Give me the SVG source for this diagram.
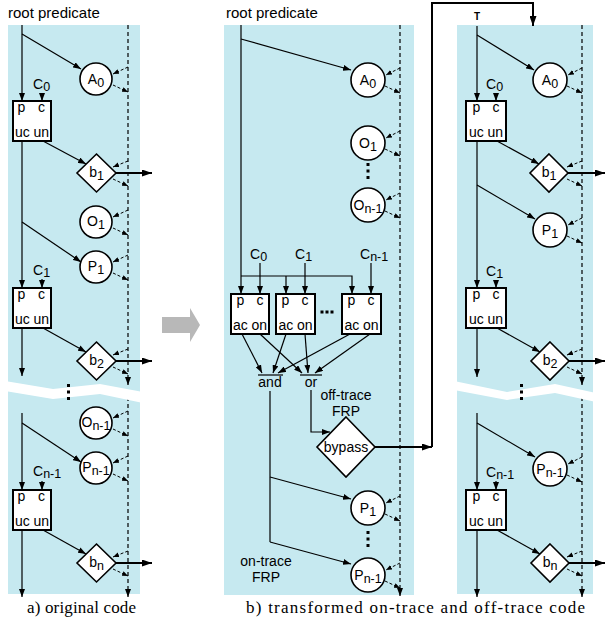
<svg xmlns="http://www.w3.org/2000/svg" width="605" height="623" viewBox="0 0 605 623">
<defs>
<style>
.panel{fill:#c6e9f0;stroke:none}
.t{font-family:"Liberation Sans",Arial,sans-serif;font-size:14px;fill:#000}
.tm{font-family:"Liberation Sans",Arial,sans-serif;font-size:14px;fill:#000;text-anchor:middle}
.cap{font-family:"Liberation Serif","Times New Roman",serif;font-size:17px;fill:#000}
.box{fill:#fff;stroke:#000;stroke-width:2}
.nd{fill:#fff;stroke:#000;stroke-width:1.6}
.ln{fill:none;stroke:#000;stroke-width:1.2}
.lnh{fill:none;stroke:#000;stroke-width:2}
.ds{fill:none;stroke:#000;stroke-width:1.2;stroke-dasharray:4 3}
.dss{fill:none;stroke:#000;stroke-width:1;stroke-dasharray:3 2}
.band{fill:#fff;stroke:none}
.dot{fill:#000}
</style>
<marker id="ah" viewBox="0 0 8 6" refX="8" refY="3" markerWidth="8" markerHeight="6" markerUnits="userSpaceOnUse" orient="auto"><path d="M0,0 L8,3 L0,6 z"/></marker>
<marker id="as" viewBox="0 0 6 5" refX="6" refY="2.5" markerWidth="6" markerHeight="5" markerUnits="userSpaceOnUse" orient="auto"><path d="M0,0 L6,2.5 L0,5 z"/></marker>
<marker id="ab" viewBox="0 0 10 7" refX="10" refY="3.5" markerWidth="10" markerHeight="7" markerUnits="userSpaceOnUse" orient="auto"><path d="M0,0 L10,3.5 L0,7 z"/></marker>
</defs>

<!-- panels -->
<rect class="panel" x="8" y="25" width="132" height="569"/>
<rect class="panel" x="224" y="25" width="190" height="570"/>
<rect class="panel" x="457" y="25" width="136" height="569"/>

<!-- transform arrow -->
<polygon points="162,317 190,317 190,308 200,325 190,342 190,333 162,333" fill="#b8b8b8"/>

<!-- connectors -->
<g id="connectors">
 <!-- panel a -->
 <path class="ln" marker-end="url(#ah)" d="M22,25 V101"/>
 <path class="ln" marker-end="url(#ah)" d="M22,34 L81,69"/>
 <path class="ln" marker-end="url(#ah)" d="M42,93 V101"/>
 <path class="ln" marker-end="url(#ah)" d="M22,141 V288"/>
 <path class="ln" marker-end="url(#ah)" d="M22,222 L81,262"/>
 <path class="ln" marker-end="url(#ah)" d="M43,141 L86,164"/>
 <path class="lnh" marker-end="url(#ab)" d="M116,173 H152"/>
 <path class="ln" marker-end="url(#ah)" d="M42,279 V288"/>
 <path class="ln" marker-end="url(#ah)" d="M22,328 V376"/>
 <path class="ln" marker-end="url(#ah)" d="M43,328 L86,352"/>
 <path class="lnh" marker-end="url(#ab)" d="M116,361 H152"/>
 <path class="ln" marker-end="url(#ah)" d="M22,413 V490"/>
 <path class="ln" marker-end="url(#ah)" d="M22,423 L81,462"/>
 <path class="ln" marker-end="url(#ah)" d="M42,481 V490"/>
 <path class="ln" marker-end="url(#ah)" d="M22,530 V597"/>
 <path class="ln" marker-end="url(#ah)" d="M43,530 L86,554"/>
 <path class="lnh" marker-end="url(#ab)" d="M116,563 H152"/>
 <path class="ds" marker-end="url(#ah)" d="M128,25 V385"/>
 <path class="ds" marker-end="url(#ah)" d="M128,397 V597"/>
 <g class="dss">
  <path marker-end="url(#as)" d="M128,67 L113,74"/><path marker-end="url(#as)" d="M113,85 L128,92"/>
  <path marker-end="url(#as)" d="M128,161 L113,167"/><path marker-end="url(#as)" d="M113,179 L128,186"/>
  <path marker-end="url(#as)" d="M128,210 L113,217"/><path marker-end="url(#as)" d="M113,228 L128,235"/>
  <path marker-end="url(#as)" d="M128,255 L113,262"/><path marker-end="url(#as)" d="M113,273 L128,280"/>
  <path marker-end="url(#as)" d="M128,349 L113,355"/><path marker-end="url(#as)" d="M113,367 L128,374"/>
  <path marker-end="url(#as)" d="M128,411 L113,418"/><path marker-end="url(#as)" d="M113,429 L128,436"/>
  <path marker-end="url(#as)" d="M128,456 L113,463"/><path marker-end="url(#as)" d="M113,474 L128,481"/>
  <path marker-end="url(#as)" d="M128,551 L113,557"/><path marker-end="url(#as)" d="M113,569 L128,576"/>
 </g>

 <!-- panel b -->
 <path class="ln" marker-end="url(#ah)" d="M241,25 V294"/>
 <path class="ln" marker-end="url(#ah)" d="M241,39 L351,70"/>
 <path class="ln" marker-end="url(#ah)" d="M241,276 H352 V294"/>
 <path class="ln" marker-end="url(#ah)" d="M286,276 V294"/>
 <path class="ln" marker-end="url(#ah)" d="M260,263 V294"/>
 <path class="ln" marker-end="url(#ah)" d="M305,263 V294"/>
 <path class="ln" marker-end="url(#ah)" d="M371,263 V294"/>
 <path class="ln" marker-end="url(#ah)" d="M242,334 L262,373"/>
 <path class="ln" marker-end="url(#ah)" d="M286,334 L273,373"/>
 <path class="ln" marker-end="url(#ah)" d="M350,334 L278,373"/>
 <path class="ln" marker-end="url(#ah)" d="M260,334 L302,373"/>
 <path class="ln" marker-end="url(#ah)" d="M305,334 L308,373"/>
 <path class="ln" marker-end="url(#ah)" d="M370,334 L315,373"/>
 <path class="ln" d="M270,391 V542"/>
 <path class="ln" marker-end="url(#ah)" d="M270,477 L351,499"/>
 <path class="ln" marker-end="url(#ah)" d="M270,542 L351,564"/>
 <path class="ln" marker-end="url(#ah)" d="M311,390 V432 H330"/>
 <path class="lnh" marker-end="url(#ab)" d="M375,447 H432"/>
 <path class="lnh" marker-end="url(#ab)" d="M432,447 V3 H533 V26"/>
 <path class="ds" marker-end="url(#ah)" d="M400,25 V596"/>
 <g class="dss">
  <path marker-end="url(#as)" d="M400,68 L386,75"/><path marker-end="url(#as)" d="M385,86 L400,93"/>
  <path marker-end="url(#as)" d="M400,131 L386,138"/><path marker-end="url(#as)" d="M385,149 L400,156"/>
  <path marker-end="url(#as)" d="M400,193 L386,200"/><path marker-end="url(#as)" d="M385,211 L400,218"/>
  <path marker-end="url(#as)" d="M400,496 L386,503"/><path marker-end="url(#as)" d="M385,514 L400,521"/>
  <path marker-end="url(#as)" d="M400,563 L386,570"/><path marker-end="url(#as)" d="M385,581 L400,588"/>
 </g>

 <!-- panel c -->
 <path class="ln" marker-end="url(#ah)" d="M477,26 V101"/>
 <path class="ln" marker-end="url(#ah)" d="M477,35 L534,70"/>
 <path class="ln" marker-end="url(#ah)" d="M496,93 V101"/>
 <path class="ln" marker-end="url(#ah)" d="M477,141 V288"/>
 <path class="ln" marker-end="url(#ah)" d="M477,185 L535,219"/>
 <path class="ln" marker-end="url(#ah)" d="M497,141 L539,164"/>
 <path class="lnh" marker-end="url(#ab)" d="M568,173 H605"/>
 <path class="ln" marker-end="url(#ah)" d="M496,280 V288"/>
 <path class="ln" marker-end="url(#ah)" d="M477,328 V377"/>
 <path class="ln" marker-end="url(#ah)" d="M497,328 L540,352"/>
 <path class="lnh" marker-end="url(#ab)" d="M569,361 H605"/>
 <path class="ln" marker-end="url(#ah)" d="M477,413 V490"/>
 <path class="ln" marker-end="url(#ah)" d="M477,423 L535,457"/>
 <path class="ln" marker-end="url(#ah)" d="M496,481 V490"/>
 <path class="ln" marker-end="url(#ah)" d="M477,530 V597"/>
 <path class="ln" marker-end="url(#ah)" d="M497,530 L540,554"/>
 <path class="lnh" marker-end="url(#ab)" d="M569,563 H605"/>
 <path class="ds" marker-end="url(#ah)" d="M582,25 V385"/>
 <path class="ds" marker-end="url(#ah)" d="M582,397 V597"/>
 <g class="dss">
  <path marker-end="url(#as)" d="M582,68 L568,75"/><path marker-end="url(#as)" d="M567,86 L582,93"/>
  <path marker-end="url(#as)" d="M582,161 L567,167"/><path marker-end="url(#as)" d="M567,179 L582,186"/>
  <path marker-end="url(#as)" d="M582,218 L568,225"/><path marker-end="url(#as)" d="M567,236 L582,243"/>
  <path marker-end="url(#as)" d="M582,349 L567,355"/><path marker-end="url(#as)" d="M567,367 L582,374"/>
  <path marker-end="url(#as)" d="M582,457 L568,464"/><path marker-end="url(#as)" d="M567,475 L582,482"/>
  <path marker-end="url(#as)" d="M582,551 L567,557"/><path marker-end="url(#as)" d="M567,569 L582,576"/>
 </g>
</g>

<!-- break bands -->
<polygon class="band" points="5,381 53,389 100,384 143,392 143,403 100,394 53,399 5,391"/>
<polygon class="band" points="454,381 507,392 555,384 596,393 596,402 555,393 507,400 454,390"/>

<!-- texts -->
<text class="t" x="8" y="18" style="font-size:15px">root predicate</text>
<text class="t" x="226" y="18" style="font-size:15px">root predicate</text>
<text class="tm" x="477" y="20" style="font-size:10px;font-weight:bold">T</text>

<!-- panel a nodes -->
<g id="a-A0"><circle class="nd" cx="96" cy="79" r="16"/><text class="tm" x="96" y="84">A<tspan font-size="12.5" dy="3">0</tspan></text></g>
<g id="a-C0"><text class="t" x="33" y="89">C<tspan font-size="12.5" dy="2">0</tspan></text></g>
<g id="a-box1"><rect class="box" x="13" y="101" width="38" height="40"/><text class="tm" x="21.5" y="112">p</text><text class="tm" x="41.5" y="112">c</text><text class="tm" x="32" y="137">uc un</text></g>
<g id="a-b1"><polygon class="nd" points="96.5,154 116,173 96.5,192 77,173"/><text class="tm" x="96.5" y="177">b<tspan font-size="12.5" dy="3">1</tspan></text></g>
<g id="a-O1"><circle class="nd" cx="96" cy="222" r="16"/><text class="tm" x="96" y="226">O<tspan font-size="12.5" dy="3">1</tspan></text></g>
<g id="a-P1"><circle class="nd" cx="96" cy="267" r="16"/><text class="tm" x="96" y="271">P<tspan font-size="12.5" dy="3">1</tspan></text></g>
<g id="a-C1"><text class="t" x="33" y="275">C<tspan font-size="12.5" dy="2">1</tspan></text></g>
<g id="a-box2"><rect class="box" x="13" y="288" width="38" height="40"/><text class="tm" x="21.5" y="299">p</text><text class="tm" x="41.5" y="299">c</text><text class="tm" x="32" y="324">uc un</text></g>
<g id="a-b2"><polygon class="nd" points="96.5,342 116,361 96.5,380 77,361"/><text class="tm" x="96.5" y="365">b<tspan font-size="12.5" dy="3">2</tspan></text></g>
<g id="a-dots"><rect class="dot" x="67" y="384" width="3" height="3"/><rect class="dot" x="67" y="390.5" width="3" height="3"/><rect class="dot" x="67" y="397" width="3" height="3"/></g>
<g id="a-On1"><circle class="nd" cx="96" cy="423" r="16"/><text class="tm" x="96" y="427">O<tspan font-size="12.5" dy="3">n-1</tspan></text></g>
<g id="a-Pn1"><circle class="nd" cx="96" cy="468" r="16"/><text class="tm" x="96" y="472">P<tspan font-size="12.5" dy="3">n-1</tspan></text></g>
<g id="a-Cn1"><text class="t" x="33" y="476">C<tspan font-size="12.5" dy="2">n-1</tspan></text></g>
<g id="a-box3"><rect class="box" x="13" y="490" width="38" height="40"/><text class="tm" x="21.5" y="501">p</text><text class="tm" x="41.5" y="501">c</text><text class="tm" x="32" y="526">uc un</text></g>
<g id="a-bn"><polygon class="nd" points="96.5,544 116,563 96.5,582 77,563"/><text class="tm" x="96.5" y="567">b<tspan font-size="12.5" dy="3">n</tspan></text></g>

<!-- panel b nodes -->
<g id="b-A0"><circle class="nd" cx="368" cy="80" r="17"/><text class="tm" x="368" y="85">A<tspan font-size="12.5" dy="3">0</tspan></text></g>
<g id="b-O1"><circle class="nd" cx="368" cy="143" r="17"/><text class="tm" x="368" y="148">O<tspan font-size="12.5" dy="3">1</tspan></text></g>
<g id="b-dots1"><rect class="dot" x="366.5" y="163" width="3" height="3"/><rect class="dot" x="366.5" y="169.5" width="3" height="3"/><rect class="dot" x="366.5" y="176" width="3" height="3"/></g>
<g id="b-On1"><circle class="nd" cx="368" cy="205" r="17"/><text class="tm" x="368" y="210">O<tspan font-size="12.5" dy="3">n-1</tspan></text></g>
<g id="b-C0"><text class="t" x="250" y="259">C<tspan font-size="12.5" dy="2">0</tspan></text></g>
<g id="b-C1"><text class="t" x="295" y="259">C<tspan font-size="12.5" dy="2">1</tspan></text></g>
<g id="b-Cn1"><text class="t" x="360" y="259">C<tspan font-size="12.5" dy="2">n-1</tspan></text></g>
<g id="b-box1"><rect class="box" x="231" y="294" width="38" height="40"/><text class="tm" x="240.5" y="305">p</text><text class="tm" x="260" y="305">c</text><text class="tm" x="250" y="330">ac on</text></g>
<g id="b-box2"><rect class="box" x="276" y="294" width="39" height="40"/><text class="tm" x="285.5" y="305">p</text><text class="tm" x="305" y="305">c</text><text class="tm" x="295.5" y="330">ac on</text></g>
<g id="b-dots2"><rect class="dot" x="320.5" y="310.5" width="3" height="3"/><rect class="dot" x="325.5" y="310.5" width="3" height="3"/><rect class="dot" x="330.5" y="310.5" width="3" height="3"/></g>
<g id="b-box3"><rect class="box" x="342" y="294" width="39" height="40"/><text class="tm" x="351.5" y="305">p</text><text class="tm" x="371" y="305">c</text><text class="tm" x="361.5" y="330">ac on</text></g>
<g id="b-and"><line class="ln" x1="258" y1="375" x2="283" y2="375"/><text class="tm" x="270" y="387">and</text></g>
<g id="b-or"><line class="ln" x1="300" y1="375" x2="322" y2="375"/><text class="tm" x="311" y="387">or</text></g>
<g id="b-offtrace"><text class="tm" x="346" y="400">off-trace</text><text class="tm" x="346" y="416">FRP</text></g>
<g id="b-bypass"><polygon class="nd" points="346,417 375,447 346,477 317,447"/><text class="tm" x="346" y="452">bypass</text></g>
<g id="b-P1"><circle class="nd" cx="368" cy="508" r="17"/><text class="tm" x="368" y="513">P<tspan font-size="12.5" dy="3">1</tspan></text></g>
<g id="b-dots3"><rect class="dot" x="366.5" y="531" width="3" height="3"/><rect class="dot" x="366.5" y="537.5" width="3" height="3"/><rect class="dot" x="366.5" y="544" width="3" height="3"/></g>
<g id="b-Pn1"><circle class="nd" cx="368" cy="575" r="17"/><text class="tm" x="368" y="580">P<tspan font-size="12.5" dy="3">n-1</tspan></text></g>
<g id="b-ontrace"><text class="tm" x="266" y="566">on-trace</text><text class="tm" x="266" y="582">FRP</text></g>

<!-- panel c nodes -->
<g id="c-A0"><circle class="nd" cx="550" cy="80" r="17"/><text class="tm" x="550" y="85">A<tspan font-size="12.5" dy="3">0</tspan></text></g>
<g id="c-C0"><text class="t" x="486" y="89">C<tspan font-size="12.5" dy="2">0</tspan></text></g>
<g id="c-box1"><rect class="box" x="466" y="101" width="40" height="40"/><text class="tm" x="476.5" y="112">p</text><text class="tm" x="496" y="112">c</text><text class="tm" x="486" y="137">uc un</text></g>
<g id="c-b1"><polygon class="nd" points="549,154 568,173 549,192 530,173"/><text class="tm" x="549" y="177">b<tspan font-size="12.5" dy="3">1</tspan></text></g>
<g id="c-P1"><circle class="nd" cx="550" cy="230" r="17"/><text class="tm" x="550" y="235">P<tspan font-size="12.5" dy="3">1</tspan></text></g>
<g id="c-C1"><text class="t" x="486" y="276">C<tspan font-size="12.5" dy="2">1</tspan></text></g>
<g id="c-box2"><rect class="box" x="466" y="288" width="40" height="40"/><text class="tm" x="476.5" y="299">p</text><text class="tm" x="496" y="299">c</text><text class="tm" x="486" y="324">uc un</text></g>
<g id="c-b2"><polygon class="nd" points="550,342 569,361 550,380 531,361"/><text class="tm" x="550" y="365">b<tspan font-size="12.5" dy="3">2</tspan></text></g>
<g id="c-dots"><rect class="dot" x="520" y="384" width="3" height="3"/><rect class="dot" x="520" y="390.5" width="3" height="3"/><rect class="dot" x="520" y="397" width="3" height="3"/></g>
<g id="c-Pn1"><circle class="nd" cx="550" cy="469" r="17"/><text class="tm" x="550" y="474">P<tspan font-size="12.5" dy="3">n-1</tspan></text></g>
<g id="c-Cn1"><text class="t" x="486" y="477">C<tspan font-size="12.5" dy="2">n-1</tspan></text></g>
<g id="c-box3"><rect class="box" x="466" y="490" width="40" height="40"/><text class="tm" x="476.5" y="501">p</text><text class="tm" x="496" y="501">c</text><text class="tm" x="486" y="526">uc un</text></g>
<g id="c-bn"><polygon class="nd" points="550,544 569,563 550,582 531,563"/><text class="tm" x="550" y="567">b<tspan font-size="12.5" dy="3">n</tspan></text></g>

<!-- captions -->
<text class="cap" x="27" y="613" textLength="109" lengthAdjust="spacing">a) original code</text>
<text class="cap" x="246" y="613" textLength="339" lengthAdjust="spacing">b) transformed on-trace and off-trace code</text>
</svg>
